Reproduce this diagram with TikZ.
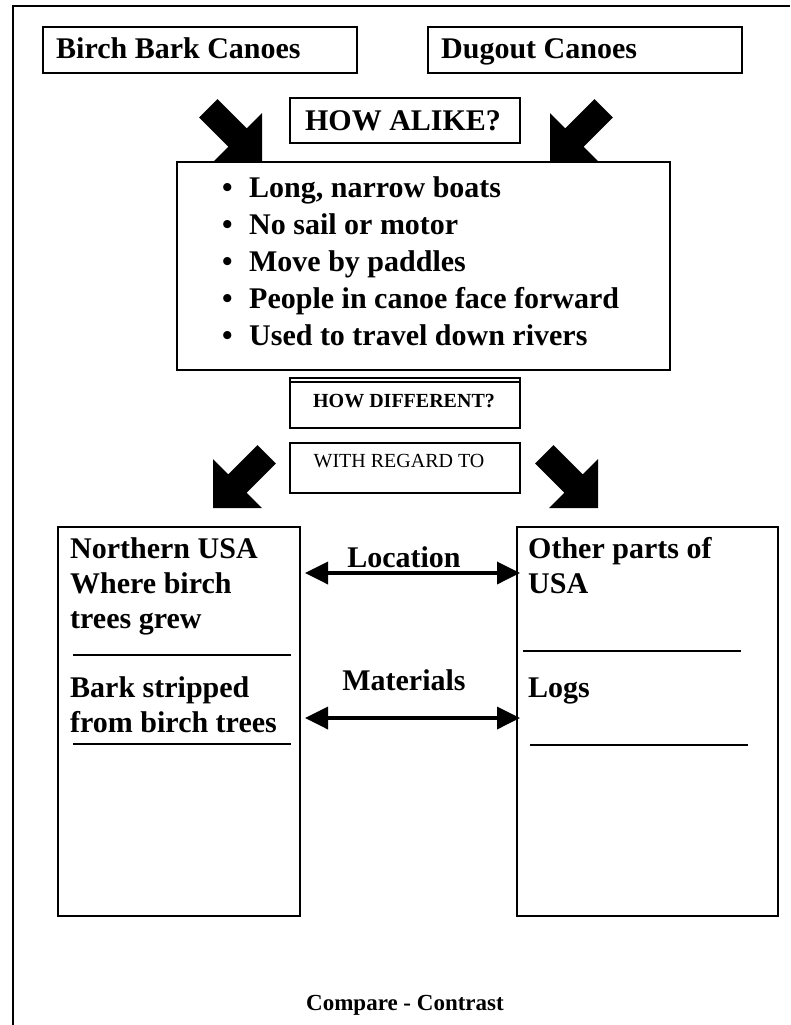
\documentclass[tikz,border=0pt]{standalone}
\usepackage{fontspec}
\setmainfont{Liberation Serif}
\usetikzlibrary{arrows.meta}
\begin{document}
\begin{tikzpicture}[x=1pt,y=-1pt,
  box/.style={draw, line width=2pt, rectangle, inner sep=0pt, outer sep=0pt},
  big/.style={font=\fontsize{30}{35}\selectfont\bfseries, inner sep=0pt},
  smallb/.style={font=\fontsize{20}{24}\selectfont\bfseries, inner sep=0pt},
  smallr/.style={font=\fontsize{20}{24}\selectfont, inner sep=0pt},
  rule/.style={line width=1.8pt},
  dbl/.style={{Triangle[length=23pt,width=22pt]}-{Triangle[length=23pt,width=22pt]}, line width=3.6pt},
  blockarrow/.style={fill=black}]
\useasboundingbox (0,0) rectangle (790,1025);
% outer frame (top and left)
\draw[line width=2pt] (13,1025) -- (13,6) -- (790,6);

% title boxes
\node[box, minimum width=314pt, minimum height=46pt] (birch) at (200,50) {};
\node[big, anchor=base west] (birchT) at (56,59) {Birch Bark Canoes};
\node[box, minimum width=314pt, minimum height=46pt] (dugout) at (585,50) {};
\node[big, anchor=base west] (dugoutT) at (441,59) {Dugout Canoes};

% how alike
\node[box, minimum width=230pt, minimum height=45pt] (alike) at (405,120.5) {};
\node[big, anchor=base] (alikeT) at (403,130) {HOW ALIKE?};

% alike list box
\node[box, minimum width=493pt, minimum height=208pt] (alikebox) at (423.5,266) {};
\foreach \t [count=\i] in {{Long, narrow boats},{No sail or motor},{Move by paddles},{People in canoe face forward},{Used to travel down rivers}}{
  \node[big, anchor=base west] (item\i) at (222,{197+37*(\i-1)}) {\makebox[27pt][l]{•}\t};
}

% how different
\node[box, minimum width=230pt, minimum height=50pt] (diff) at (405,403) {};
\draw[line width=1.2pt] (diff.north west) ++(0,4) -- ++(230,0);
\node[smallb, anchor=base] (diffT) at (404,407) {HOW DIFFERENT?};

% with regard to
\node[box, minimum width=230pt, minimum height=50pt] (regard) at (405,468) {};
\node[smallr, anchor=base] (regardT) at (399,467) {WITH REGARD TO};

% big block arrows
\newcommand\bigarr[3]{\fill[blockarrow, shift={(#1,#2)}, rotate=#3] (0,0) -- (-34.6,34.6) -- (-34.6,13) -- (-76,13) -- (-76,-13) -- (-34.6,-13) -- (-34.6,-34.6) -- cycle;}
\bigarr{262}{162}{-45}
\bigarr{550}{162}{-135}
\bigarr{213}{508}{-135}
\bigarr{598}{508}{-45}

% bottom boxes
\node[box, minimum width=242pt, minimum height=389pt] (lbox) at (179,721.5) {};
\node[box, minimum width=261pt, minimum height=389pt] (rbox) at (647.5,721.5) {};

\node[big, anchor=base west] (l1) at (70,558) {Northern USA};
\node[big, anchor=base west] (l2) at (70,593) {Where birch};
\node[big, anchor=base west] (l3) at (70,628) {trees grew};
\draw[rule] (73,655) -- (291,655);
\node[big, anchor=base west] (l4) at (70,697) {Bark stripped};
\node[big, anchor=base west] (l5) at (70,732) {from birch trees};
\draw[rule] (73,744) -- (291,744);

\node[big, anchor=base west] (r1) at (528,558) {Other parts of};
\node[big, anchor=base west] (r2) at (528,593) {USA};
\draw[rule] (523,651) -- (741,651);
\node[big, anchor=base west] (r3) at (528,697) {Logs};
\draw[rule] (530,745) -- (748,745);

% double arrows
\coordinate (locy) at (0,573);
\coordinate (maty) at (0,718);
\draw[dbl] ([xshift=5pt]lbox.east |- locy) -- ([xshift=3pt]rbox.west |- locy);
\node[big, anchor=base] (locT) at (404,567) {Location};
\draw[dbl] ([xshift=5pt]lbox.east |- maty) -- ([xshift=3pt]rbox.west |- maty);
\node[big, anchor=base] (matT) at (404,690) {Materials};

% footer
\node[font=\fontsize{23}{27}\selectfont\bfseries, inner sep=0pt, anchor=base] (foot) at (405,1010) {Compare - Contrast};
\end{tikzpicture}
\end{document}
